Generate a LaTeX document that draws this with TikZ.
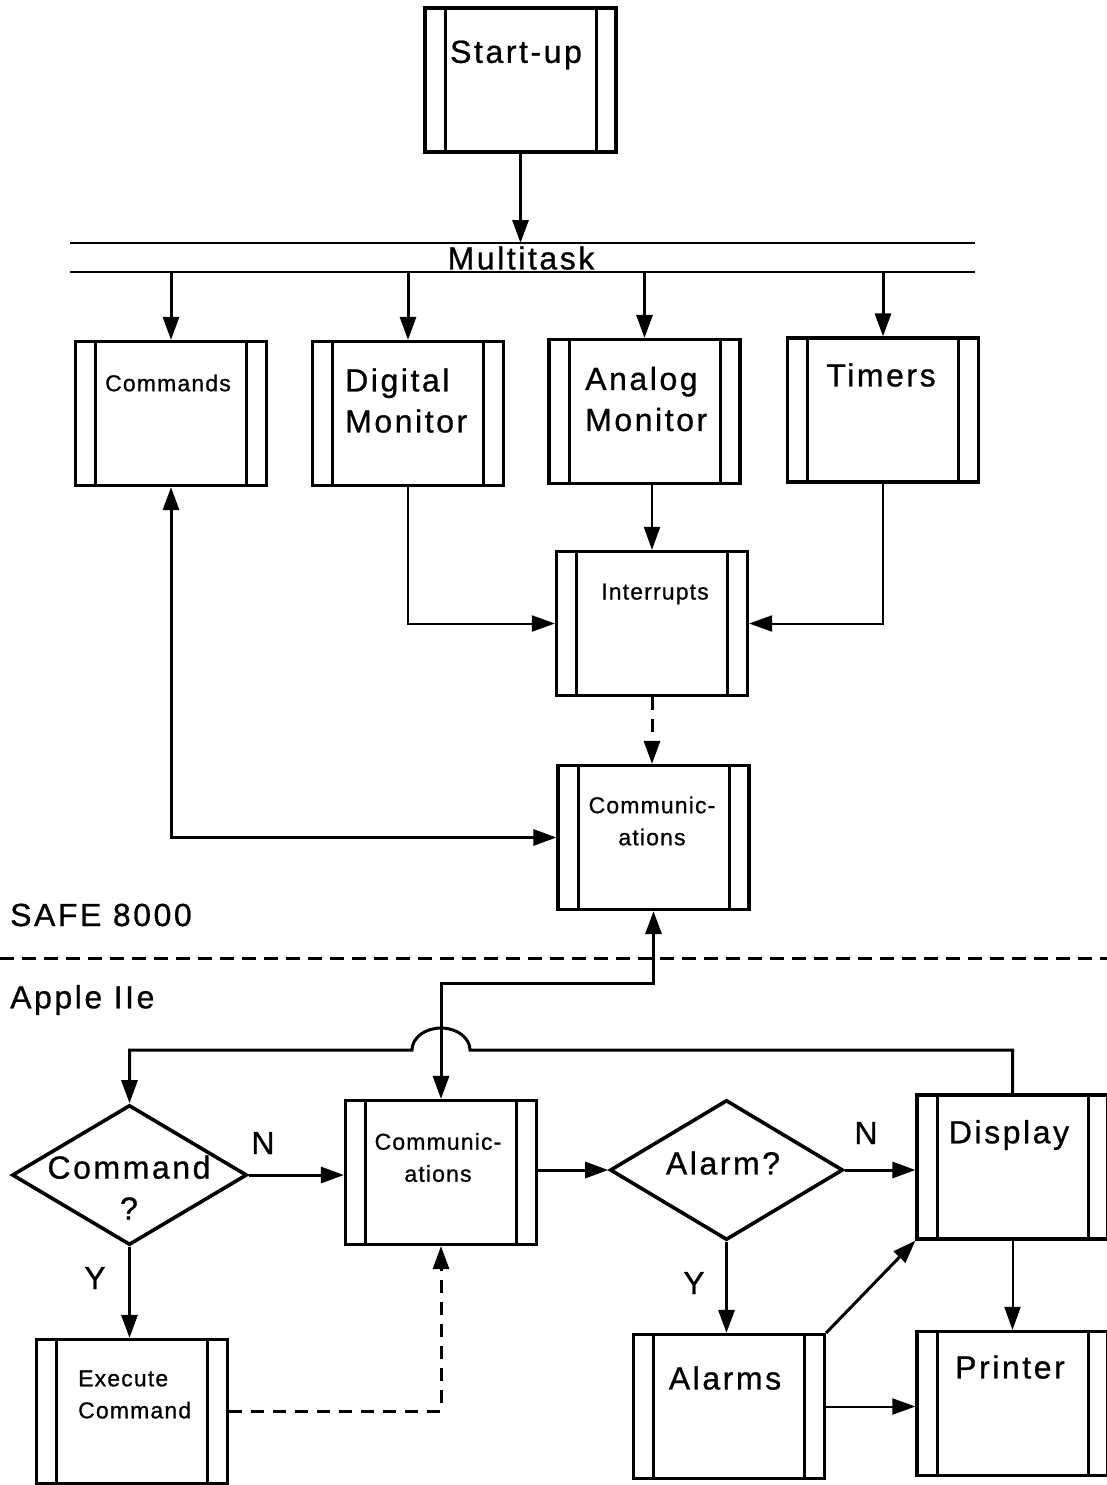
\documentclass[tikz,border=0pt]{standalone}
\usepackage{fontspec}
\setmainfont{Liberation Sans}
\newfontfamily\bigf[LetterSpace=8,FakeBold=0.8]{Liberation Sans}
\newfontfamily\smallf[LetterSpace=5,FakeBold=0.8]{Liberation Sans}
\usetikzlibrary{arrows.meta,shapes.geometric,calc}
\tikzset{
  proc/.style={draw, line width=3.2pt, minimum width=191pt, minimum height=144pt, inner sep=0pt,
    path picture={\draw[line width=3pt]
      ([xshift=20pt]path picture bounding box.north west) -- ([xshift=20pt]path picture bounding box.south west)
      ([xshift=-20pt]path picture bounding box.north east) -- ([xshift=-20pt]path picture bounding box.south east);}},
  dia/.style={draw, diamond, line width=3.6pt, inner sep=0pt},
  conn/.style={line width=3pt},
  thinconn/.style={line width=2pt},
  dashconn/.style={line width=3pt, dash pattern=on 13pt off 9pt},
  bus/.style={line width=2.4pt},
  sepline/.style={line width=3pt, dash pattern=on 14pt off 8pt},
  big/.style={font=\bigf\fontsize{32}{41}\selectfont, inner sep=0pt},
  small/.style={font=\smallf\fontsize{23}{32}\selectfont, inner sep=0pt},
}
\begin{document}
\begin{tikzpicture}[x=1pt,y=-1pt,>={Triangle[length=23pt,width=16pt]}]
\useasboundingbox (0,0) rectangle (1107,1485);
\fill[white] (0,0) rectangle (1107,1485);

% boxes
\node[proc] (startup) at (520.5,80) {};
\node[proc] (commands) at (171,413.5) {};
\node[proc] (digital) at (408,413.5) {};
\node[proc] (analog) at (644.5,411.5) {};
\node[proc] (timers) at (883,410) {};
\node[proc] (interrupts) at (652,623.5) {};
\node[proc] (comm1) at (653.5,837.5) {};
\node[proc] (comm2) at (441,1172.5) {};
\node[proc] (execute) at (132,1411.5) {};
\node[proc] (alarms) at (729,1406.5) {};
\node[proc] (display) at (1012.5,1167) {};
\node[proc] (printer) at (1012.5,1403.5) {};
\node[dia, minimum width=235pt, minimum height=140pt] (cmd) at (129.5,1175) {};
\node[dia, minimum width=233pt, minimum height=140pt] (alarm) at (726.5,1170) {};

% texts
\node[big] (startupT) at (516,55) {Start-up};
\node[big] (multiT) at (521,258) {Multitask};
\node[small] (commandsT) at (168,383) {Commands};
\node[big, align=left, anchor=west] (digitalT) at (345,400.5) {Digital\\Monitor};
\node[big, align=left, anchor=west] (analogT) at (585,399) {Analog\\Monitor};
\node[big] (timersT) at (881,375) {Timers};
\node[small] (interruptsT) at (655,594) {Interrupts};
\node[small, align=center] (comm1T) at (652,821) {Communic-\\ations};
\node[small, align=center] (comm2T) at (438,1157.5) {Communic-\\ations};
\node[big, align=center] (cmdT) at (129,1187.5) {Command\\?};
\node[big] (alarmT) at (723,1163) {Alarm?};
\node[big] (displayT) at (1009,1135) {Display};
\node[small, align=left, anchor=west] (executeT) at (78,1394.5) {Execute\\Command};
\node[big] (alarmsT) at (725,1378) {Alarms};
\node[big] (printerT) at (1010,1367) {Printer};
\node[big, anchor=west] (safeT) at (10,915) {SAFE 8000};
\node[big, anchor=west] (appleT) at (10,1000) {Apple IIe};
\node[big] (n1) at (263,1143) {N};
\node[big] (n2) at (866,1133) {N};
\node[big] (y1) at (95,1278) {Y};
\node[big] (y2) at (694,1283) {Y};

% bus
\coordinate (busTL) at (70,243); \coordinate (busTR) at (975,243);
\coordinate (busBL) at (70,272); \coordinate (busBR) at (975,272);
\draw[bus] (busTL) -- (busTR);
\draw[bus] (busBL) -- (busBR);

% separator
\coordinate (sepL) at (0,958); \coordinate (sepR) at (1107,958);
\draw[sepline] (sepL) -- (sepR);

% connectors
\draw[conn,->] (startup.south) -- (startup.south |- busTL);
\draw[conn,->] (commands.north |- busBL) -- (commands.north);
\draw[conn,->] (digital.north |- busBL) -- (digital.north);
\draw[conn,->] (analog.north |- busBL) -- (analog.north);
\draw[conn,->] (timers.north |- busBL) -- (timers.north);

\draw[conn,<->] (commands.south) |- (comm1.west);
\draw[thinconn,->] (digital.south) |- (interrupts.west);
\draw[thinconn,->] (timers.south) |- (interrupts.east);
\draw[thinconn,->] (interrupts.north |- analog.south) -- (interrupts.north);
\draw[dashconn,->] (interrupts.south) -- (interrupts.south |- comm1.north);

\coordinate (lvlA) at (0,983);
\draw[conn,<->] (comm1.south) -- (comm1.south |- lvlA) -| (comm2.north);

\coordinate (lvlB) at (0,1050);
\draw[conn,->] (display.north) -- (display.north |- lvlB) -- ($(comm2.north |- lvlB)+(29,0)$)
  arc[start angle=0,end angle=180,x radius=29pt,y radius=22pt] -- (cmd.north |- lvlB) -- (cmd.north);

\draw[conn,->] (cmd.east) -- (cmd.east -| comm2.west);
\draw[conn,->] (alarm.west -| comm2.east) -- (alarm.west);
\draw[conn,->] (alarm.east) -- (alarm.east -| display.west);
\draw[conn,->] (cmd.south) -- (cmd.south |- execute.north);
\draw[dashconn,->] (execute.east) -| (comm2.south);
\draw[conn,->] (alarm.south) -- (alarm.south |- alarms.north);
\draw[conn,->] (alarms.north east) -- (display.south west);
\draw[thinconn,->] (alarms.east) -- (alarms.east -| printer.west);
\draw[thinconn,->] (display.south) -- (display.south |- printer.north);
\end{tikzpicture}
\end{document}
